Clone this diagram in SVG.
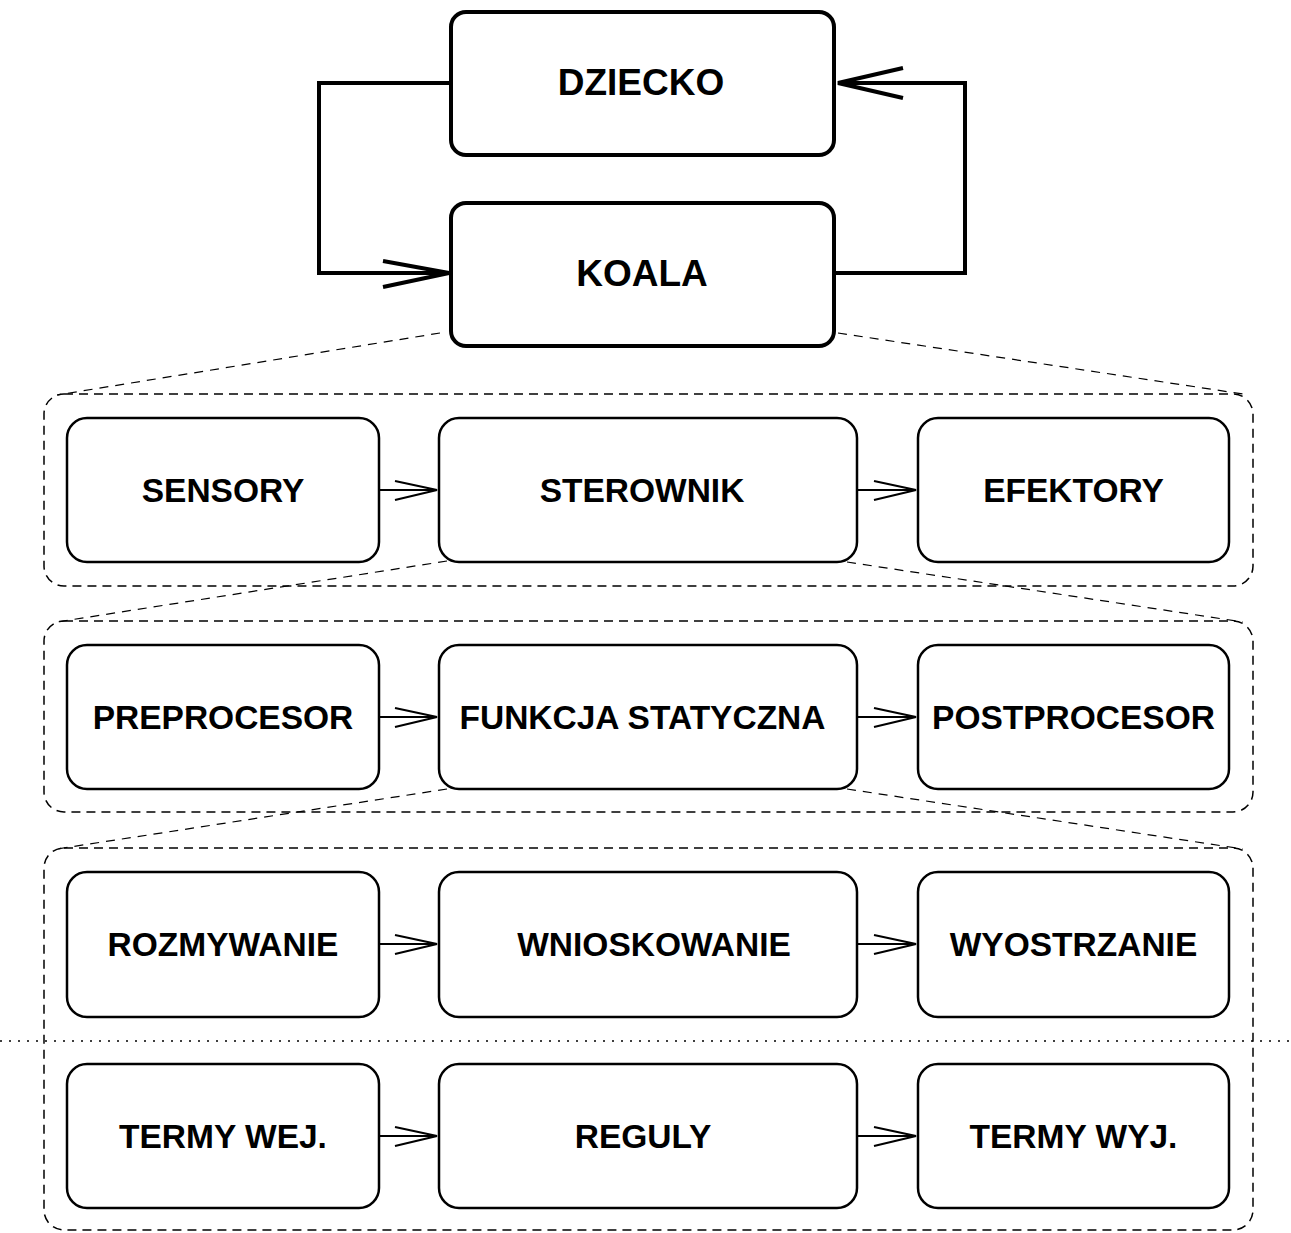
<svg xmlns="http://www.w3.org/2000/svg" width="1291" height="1233" viewBox="0 0 1291 1233">
<style>
.big{fill:#fff;stroke:#000;stroke-width:4}
.box{fill:#fff;stroke:#000;stroke-width:2.5}
.cont{fill:none;stroke:#000;stroke-width:1.5;stroke-dasharray:9 6}
.slant{fill:none;stroke:#000;stroke-width:1.2;stroke-dasharray:9 7}
.dot{fill:none;stroke:#000;stroke-width:1.5;stroke-dasharray:2 7}
.t{font-family:"Liberation Sans",Arial,sans-serif;font-weight:bold;font-size:33.5px;text-anchor:middle;fill:#000}
.tb{font-family:"Liberation Sans",Arial,sans-serif;font-weight:bold;font-size:37px;text-anchor:middle;fill:#000}
.c{fill:none;stroke:#000;stroke-width:2.2}
.cb{fill:none;stroke:#000;stroke-width:4}
</style>
<rect width="1291" height="1233" fill="#fff"/>
<g id="containers">
<rect class="cont" x="44" y="394" width="1209" height="192" rx="20"/>
<rect class="cont" x="44" y="621" width="1209" height="191" rx="20"/>
<rect class="cont" x="44" y="848" width="1209" height="382" rx="20"/>
</g>
<g id="connectors">
<path class="cb" d="M451 83 H319 V273 H449"/>
<path class="cb" d="M383 261 L449 273 L383 287"/>
<path class="cb" d="M834 273 H965 V83 H838"/>
<path class="cb" d="M903 68 L838 83 L903 98"/>
<line class="slant" x1="440" y1="333" x2="57" y2="395"/>
<line class="slant" x1="838" y1="333" x2="1243" y2="394"/>
<line class="slant" x1="447" y1="561" x2="57" y2="622"/>
<line class="slant" x1="847" y1="562" x2="1243" y2="622"/>
<line class="slant" x1="447" y1="789" x2="57" y2="849"/>
<line class="slant" x1="847" y1="789" x2="1243" y2="849"/>
<line class="dot" x1="0" y1="1041" x2="1291" y2="1041"/>
<path class="c" d="M379 490 H437 M395 481 L437 490 L395 500"/>
<path class="c" d="M857 490 H916 M874 481 L916 490 L874 500"/>
<path class="c" d="M379 717 H437 M395 708 L437 717 L395 727"/>
<path class="c" d="M857 717 H916 M874 708 L916 717 L874 727"/>
<path class="c" d="M379 944 H437 M395 935 L437 944 L395 954"/>
<path class="c" d="M857 944 H916 M874 935 L916 944 L874 954"/>
<path class="c" d="M379 1136 H437 M395 1127 L437 1136 L395 1146"/>
<path class="c" d="M857 1136 H916 M874 1127 L916 1136 L874 1146"/>
</g>
<g id="dziecko"><rect class="big" x="451" y="12" width="383" height="143" rx="15"/><text class="tb" x="641" y="95">DZIECKO</text></g>
<g id="koala"><rect class="big" x="451" y="203" width="383" height="143" rx="15"/><text class="tb" x="642" y="286">KOALA</text></g>
<g id="sensory"><rect class="box" x="67" y="418" width="312" height="144" rx="20"/><text class="t" x="223" y="502">SENSORY</text></g>
<g id="sterownik"><rect class="box" x="439" y="418" width="418" height="144" rx="20"/><text class="t" x="642" y="502">STEROWNIK</text></g>
<g id="efektory"><rect class="box" x="918" y="418" width="311" height="144" rx="20"/><text class="t" x="1073.5" y="502">EFEKTORY</text></g>
<g id="preprocesor"><rect class="box" x="67" y="645" width="312" height="144" rx="20"/><text class="t" x="223" y="729">PREPROCESOR</text></g>
<g id="funkcja"><rect class="box" x="439" y="645" width="418" height="144" rx="20"/><text class="t" x="642.5" y="729">FUNKCJA STATYCZNA</text></g>
<g id="postprocesor"><rect class="box" x="918" y="645" width="311" height="144" rx="20"/><text class="t" x="1073.5" y="729">POSTPROCESOR</text></g>
<g id="rozmywanie"><rect class="box" x="67" y="872" width="312" height="145" rx="20"/><text class="t" x="223" y="956">ROZMYWANIE</text></g>
<g id="wnioskowanie"><rect class="box" x="439" y="872" width="418" height="145" rx="20"/><text class="t" x="654" y="956">WNIOSKOWANIE</text></g>
<g id="wyostrzanie"><rect class="box" x="918" y="872" width="311" height="145" rx="20"/><text class="t" x="1073.5" y="956">WYOSTRZANIE</text></g>
<g id="termy-wej"><rect class="box" x="67" y="1064" width="312" height="144" rx="20"/><text class="t" x="223" y="1148">TERMY WEJ.</text></g>
<g id="reguly"><rect class="box" x="439" y="1064" width="418" height="144" rx="20"/><text class="t" x="643" y="1148">REGULY</text></g>
<g id="termy-wyj"><rect class="box" x="918" y="1064" width="311" height="144" rx="20"/><text class="t" x="1073.5" y="1148">TERMY WYJ.</text></g>
</svg>
